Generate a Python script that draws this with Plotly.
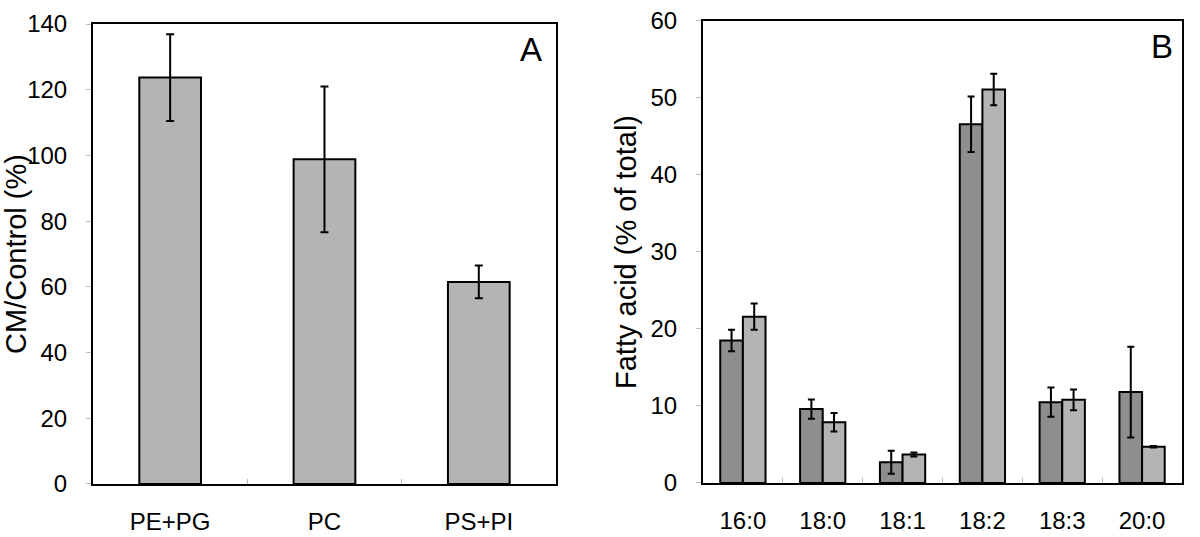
import plotly.graph_objects as go

# Panel A data
cats_a = ["PE+PG", "PC", "PS+PI"]
vals_a = [123.7, 98.8, 61.5]
err_a = [13.2, 22.2, 5.0]

# Panel B data
cats_b = ["16:0", "18:0", "18:1", "18:2", "18:3", "20:0"]
vals_b_dark = [18.5, 9.6, 2.7, 46.6, 10.5, 11.8]
err_b_dark = [1.4, 1.25, 1.5, 3.6, 1.9, 5.9]
vals_b_light = [21.6, 7.9, 3.7, 51.1, 10.8, 4.7]
err_b_light = [1.7, 1.2, 0.27, 2.05, 1.35, 0.1]

yticks_a = [0, 20, 40, 60, 80, 100, 120, 140]
yticks_b = [0, 10, 20, 30, 40, 50, 60]

FONT = "Liberation Sans, Arial, sans-serif"
LIGHT = "#b4b4b4"
DARK = "#8e8e8e"

fig = go.Figure()

fig.add_trace(go.Bar(
    x=cats_a, y=vals_a, xaxis="x", yaxis="y",
    marker=dict(color=LIGHT, line=dict(color="black", width=2)),
    error_y=dict(type="data", array=err_a, color="black", thickness=2, width=4),
    width=0.4, showlegend=False,
))

fig.add_trace(go.Bar(
    x=cats_b, y=vals_b_dark, xaxis="x2", yaxis="y2",
    marker=dict(color=DARK, line=dict(color="black", width=2)),
    error_y=dict(type="data", array=err_b_dark, color="black", thickness=2, width=3.5),
    showlegend=False, offsetgroup="d",
))
fig.add_trace(go.Bar(
    x=cats_b, y=vals_b_light, xaxis="x2", yaxis="y2",
    marker=dict(color=LIGHT, line=dict(color="black", width=2)),
    error_y=dict(type="data", array=err_b_light, color="black", thickness=2, width=3.5),
    showlegend=False, offsetgroup="l",
))

xcommon = dict(
    type="category", showline=True, linecolor="black", linewidth=2, mirror=True,
    ticks="inside", tickson="boundaries", ticklen=5, tickcolor="#bbbbbb", tickwidth=1,
    tickfont=dict(family=FONT, size=24, color="black"),
    ticklabelstandoff=15, showgrid=False, zeroline=False, fixedrange=True,
    automargin=False,
)
ycommon = dict(
    showline=True, linecolor="black", linewidth=2, mirror=True,
    ticks="outside", ticklen=5, tickcolor="#bbbbbb", tickwidth=1,
    tickfont=dict(family=FONT, size=24, color="black"),
    ticklabelstandoff=14, showgrid=False, zeroline=False, fixedrange=True,
    automargin=False,
)

fig.update_layout(
    width=1200, height=537,
    margin=dict(l=0, r=0, t=0, b=0, autoexpand=False),
    paper_bgcolor="white", plot_bgcolor="white",
    barmode="group", bargap=0.433, bargroupgap=0,
    font=dict(family=FONT, color="black"),
    xaxis=dict(domain=[0.0775, 0.4633], anchor="y", **xcommon),
    yaxis=dict(domain=[0.0987, 0.9553], anchor="x", range=[0, 140],
               tickvals=yticks_a,
               title=dict(text="CM/Control (%)", font=dict(family=FONT, size=29), standoff=2),
               **ycommon),
    xaxis2=dict(domain=[0.5858, 0.985], anchor="y2", **xcommon),
    yaxis2=dict(domain=[0.1006, 0.9609], anchor="x2", range=[0, 60],
                tickvals=yticks_b,
                title=dict(text="Fatty acid (% of total)", font=dict(family=FONT, size=29), standoff=5),
                **ycommon),
    annotations=[
        dict(text="A", xref="x domain", yref="y domain", x=0.975, y=0.99,
             xanchor="right", yanchor="top", showarrow=False,
             font=dict(family=FONT, size=33, color="black")),
        dict(text="B", xref="x2 domain", yref="y2 domain", x=0.985, y=0.99,
             xanchor="right", yanchor="top", showarrow=False,
             font=dict(family=FONT, size=33, color="black")),
    ],
)

fig.write_html(
    "out.html",
    config={"displayModeBar": False, "staticPlot": True},
    post_script="document.body.style.margin='0';document.body.style.overflow='hidden';",
)
